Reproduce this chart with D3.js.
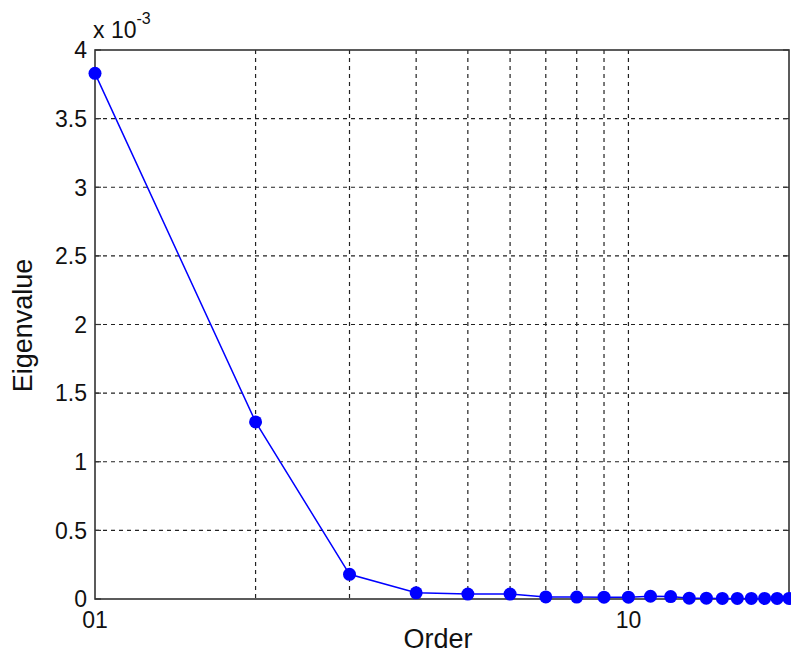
<!DOCTYPE html>
<html>
<head>
<meta charset="utf-8">
<script src="https://cdn.jsdelivr.net/npm/d3@7"></script>
<style>
  body { margin: 0; background: #fff; }
  text { font-family: "Liberation Sans", Arial, sans-serif; fill: #111; }
</style>
</head>
<body>
<script>
// chart values
let orders = [1, 2, 3, 4, 5, 6, 7, 8, 9, 10, 11, 12, 13, 14, 15, 16, 17, 18, 19, 20];
let eigenvalues = [3.83, 1.29, 0.18, 0.045, 0.036, 0.036, 0.015, 0.014, 0.013, 0.013,
                   0.02, 0.018, 0.006, 0.006, 0.004, 0.004, 0.004, 0.004, 0.004, 0.004]; // x 1e-3
let yTicks = [0, 0.5, 1, 1.5, 2, 2.5, 3, 3.5, 4];
let xGridTicks = [1, 2, 3, 4, 5, 6, 7, 8, 9, 10, 20];
let xTickLabels = [{v: 1, label: "01"}, {v: 10, label: "10"}];

let margin = {top: 50, right: 2, bottom: 62, left: 95};
let width = 791 - margin.left - margin.right,
    height = 661 - margin.top - margin.bottom;

let svg = d3.select("body").append("svg")
    .attr("width", 791)
    .attr("height", 661)
  .append("g")
    .attr("transform", "translate(" + margin.left + "," + margin.top + ")");

let x = d3.scaleLog().domain([1, 20]).range([0, width]);
let y = d3.scaleLinear().domain([0, 4]).range([height, 0]);

// dashed grid
svg.selectAll(".vgrid")
  .data(xGridTicks.filter(d => d > 1 && d < 20))
  .enter().append("line")
  .attr("x1", d => x(d)).attr("x2", d => x(d))
  .attr("y1", 0).attr("y2", height)
  .attr("stroke", "#222").attr("stroke-width", 1.2)
  .attr("stroke-dasharray", "4,4");

svg.selectAll(".hgrid")
  .data(yTicks.filter(d => d > 0 && d < 4))
  .enter().append("line")
  .attr("x1", 0).attr("x2", width)
  .attr("y1", d => y(d)).attr("y2", d => y(d))
  .attr("stroke", "#222").attr("stroke-width", 1.2)
  .attr("stroke-dasharray", "4,4");

// box
svg.append("rect")
  .attr("width", width).attr("height", height)
  .attr("fill", "none").attr("stroke", "#333").attr("stroke-width", 1.6);

// inward ticks on left and right
yTicks.forEach(t => {
  svg.append("line").attr("x1", 0).attr("x2", 6).attr("y1", y(t)).attr("y2", y(t))
    .attr("stroke", "#333").attr("stroke-width", 1.2);
  svg.append("line").attr("x1", width - 6).attr("x2", width).attr("y1", y(t)).attr("y2", y(t))
    .attr("stroke", "#333").attr("stroke-width", 1.2);
});

// y tick labels
svg.selectAll(".ylab")
  .data(yTicks)
  .enter().append("text")
  .attr("x", -8)
  .attr("y", d => y(d))
  .attr("dy", "0.36em")
  .style("text-anchor", "end")
  .style("font-size", "23px")
  .text(d => d);

// x tick labels
svg.selectAll(".xlab")
  .data(xTickLabels)
  .enter().append("text")
  .attr("x", d => x(d.v))
  .attr("y", height + 29)
  .style("text-anchor", "middle")
  .style("font-size", "23px")
  .text(d => d.label);

// exponent
let expo = svg.append("text")
  .attr("x", -2).attr("y", -12)
  .style("font-size", "23px");
expo.append("tspan").text("x 10");
expo.append("tspan").attr("dy", -14).style("font-size", "16px").text("-3");

// axis titles
svg.append("text")
  .attr("x", width / 2 - 4)
  .attr("y", height + 49)
  .style("text-anchor", "middle")
  .style("font-size", "27px")
  .text("Order");

svg.append("text")
  .attr("transform", "translate(" + (-63) + "," + (height / 2 + 1) + ") rotate(-90)")
  .style("text-anchor", "middle")
  .style("font-size", "27px")
  .text("Eigenvalue");

// series
let data = orders.map((o, i) => ({o: o, v: eigenvalues[i]}));

svg.append("path")
  .datum(data)
  .attr("fill", "none")
  .attr("stroke", "#0000ff")
  .attr("stroke-width", 1.5)
  .attr("d", d3.line().x(d => x(d.o)).y(d => y(d.v)));

svg.selectAll("circle")
  .data(data)
  .enter().append("circle")
  .attr("cx", d => x(d.o))
  .attr("cy", d => y(d.v))
  .attr("r", 6.5)
  .attr("fill", "#0000ff");
</script>
</body>
</html>
